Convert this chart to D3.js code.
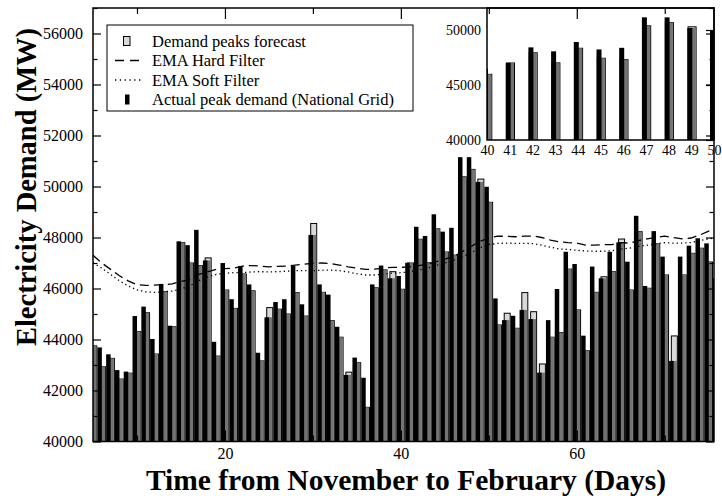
<!DOCTYPE html>
<html lang="en">
<head>
<meta charset="utf-8">
<script src="https://d3js.org/d3.v7.min.js"></script>
<title>Electricity demand peaks</title>
<style>
  body { margin: 0; background: #fff; }
  text { font-family: "Liberation Serif", "Times New Roman", serif; }
</style>
</head>
<body>
<div id="plot-div"></div>
<script>
const width = 722
const height = 496

// day index of each bar (Nov -> Feb)
const days = d3.range(5, 77)

const actualPeak = [
  44210, 43690, 43420, 42800, 42740, 44920, 45290, 44020, 46180, 44540,
  47850, 47700, 48300, 47100, 43910, 47000, 45580, 46880, 46160, 43480,
  44870, 45470, 45580, 46880, 45380, 48100, 46160, 45760, 44500, 42610,
  43290, 42500, 46160, 46900, 46400, 46490, 47010, 48420, 48060, 48910,
  48230, 48380, 51150, 51150, 50180, 49990, 45610, 44760, 44930, 45160,
  44800, 42700, 44760, 45980, 47440, 46960, 44150, 46860, 46400, 47440,
  47810, 47050, 48850, 46100, 48250, 47250, 43160, 47250, 47680, 47970,
  47770, 46400
]
const forecastPeak = [
  43750, 42930, 43260, 42450, 42680, 44310, 45050, 43430, 45880, 44500,
  47800, 47000, 46900, 47200, 43350, 45940, 45220, 46570, 45910, 43160,
  45250, 45190, 45000, 45840, 44920, 48550, 45850, 44740, 44090, 42720,
  43090, 41340, 46030, 46730, 46660, 45970, 47000, 47930, 47010, 48340,
  47430, 47310, 50380, 50670, 50290, 49380, 44570, 45030, 44440, 45840,
  45090, 43040, 44090, 44270, 46760, 45160, 43560, 45850, 46460, 46660,
  47940, 45940, 48230, 46010, 47750, 46530, 44140, 46530, 47380, 47580,
  47040, 46950
]
const emaHard = [
  47300, 47000, 46750, 46500, 46300, 46150, 46120, 46130, 46150, 46180,
  46280, 46350, 46550, 46650, 46750, 46780, 46800, 46880, 46900, 46880,
  46850, 46870, 46880, 46920, 46950, 46990, 47000, 46980, 46920, 46850,
  46800, 46750, 46760, 46800, 46830, 46830, 46850, 46900, 46950, 47050,
  47150, 47250, 47450, 47650, 47850, 47980, 48050, 48050, 48030, 48050,
  48060, 48000, 47900, 47830, 47800, 47780, 47700, 47700, 47720, 47720,
  47800, 47780, 47880, 47950, 48000, 48050, 48000, 47950, 47980, 48100,
  48250, 48350
]
const emaSoft = [
  47000, 46800, 46550, 46300, 46100, 45950, 45870, 45850, 45870, 45900,
  45980, 46100, 46300, 46450, 46550, 46600, 46620, 46620, 46650, 46660,
  46650, 46660, 46680, 46700, 46700, 46700, 46720, 46720, 46700, 46650,
  46580, 46530, 46530, 46560, 46600, 46620, 46650, 46720, 46800, 46900,
  47000, 47100, 47250, 47400, 47600, 47720, 47770, 47780, 47770, 47770,
  47760, 47700, 47620, 47550, 47530, 47500, 47470, 47460, 47460, 47480,
  47550, 47580, 47650, 47700, 47750, 47800, 47780, 47780, 47800, 47880,
  47950, 48000
]

const yTicks = [40000, 42000, 44000, 46000, 48000, 50000, 52000, 54000, 56000]
const yMinor = [41000, 43000, 45000, 47000, 49000, 51000, 53000, 55000, 57000]
const xTicks = [20, 40, 60]
const xMinor = [10, 30, 50, 70]

const insetDays = [40, 41, 42, 43, 44, 45, 46, 47, 48, 49, 50]
const insetYTicks = [40000, 45000, 50000]
const insetYMinor = [42500, 47500]

const legendItems = [
  "Demand peaks forecast",
  "EMA Hard Filter",
  "EMA Soft Filter",
  "Actual peak demand (National Grid)"
]

let rows = days.map((d, i) => ({
  day: d,
  actual: actualPeak[i],
  forecast: forecastPeak[i],
  hard: emaHard[i],
  soft: emaSoft[i]
}))

let margin = { top: 8, left: 93, right: 8, bottom: 54.5 }
let fmt = d3.format("d")

let xScale = d3.scaleLinear()
  .domain([5, 75.6])
  .range([margin.left, width - margin.right])

let yScale = d3.scaleLinear()
  .domain([40000, 57000])
  .range([height - margin.bottom, margin.top])

let svg = d3.select("#plot-div")
  .append("svg")
  .attr("width", width)
  .attr("height", height)

svg.append("rect").attr("width", width).attr("height", height).attr("fill", "#fff")

let defs = svg.append("defs")
defs.append("clipPath").attr("id", "main-clip")
  .append("rect")
  .attr("x", xScale.range()[0]).attr("y", yScale.range()[1])
  .attr("width", xScale.range()[1] - xScale.range()[0])
  .attr("height", yScale.range()[0] - yScale.range()[1])

// forecast bar (outlined), grey fill under the actual level, black actual bar
let drawBars = (g, data, x, y, fw, aw, fOff, aOff) => {
  let base = y.range()[0]
  g.selectAll("rect.fc")
    .data(data)
    .join("rect")
    .attr("class", "fc")
    .attr("x", d => x(d.day) + fOff - fw / 2)
    .attr("y", d => y(d.forecast))
    .attr("width", fw)
    .attr("height", d => base - y(d.forecast))
    .attr("fill", "#d9d9d9")
    .attr("stroke", "#000")
    .attr("stroke-width", 1)
  g.selectAll("rect.mid")
    .data(data)
    .join("rect")
    .attr("class", "mid")
    .attr("x", d => x(d.day) + fOff - fw / 2 + 0.5)
    .attr("y", d => y(Math.min(d.forecast, d.actual)))
    .attr("width", fw - 1)
    .attr("height", d => base - y(Math.min(d.forecast, d.actual)))
    .attr("fill", "#737373")
  g.selectAll("rect.act")
    .data(data)
    .join("rect")
    .attr("class", "act")
    .attr("x", d => x(d.day) + aOff - aw / 2)
    .attr("y", d => y(d.actual))
    .attr("width", aw)
    .attr("height", d => base - y(d.actual))
    .attr("fill", "#000")
}

let barsG = svg.append("g").attr("clip-path", "url(#main-clip)")
drawBars(barsG, rows, xScale, yScale, 6, 4.5, 0.8, -2.2)

// EMA lines
let lineG = svg.append("g").attr("clip-path", "url(#main-clip)")
lineG.append("path")
  .datum(rows)
  .attr("fill", "none")
  .attr("stroke", "#000")
  .attr("stroke-width", 1.3)
  .attr("stroke-dasharray", "9,5")
  .attr("d", d3.line().x(d => xScale(d.day)).y(d => yScale(d.hard)))
lineG.append("path")
  .datum(rows)
  .attr("fill", "none")
  .attr("stroke", "#000")
  .attr("stroke-width", 1.3)
  .attr("stroke-dasharray", "1.3,3")
  .attr("d", d3.line().x(d => xScale(d.day)).y(d => yScale(d.soft)))

// legend
let legend = svg.append("g")
legend.append("rect")
  .attr("x", 107).attr("y", 25)
  .attr("width", 306).attr("height", 86)
  .attr("fill", "#fff").attr("stroke", "#000").attr("stroke-width", 1)
legendItems.forEach((t, i) => {
  let cy = 41 + i * 19.5
  legend.append("text")
    .attr("x", 152).attr("y", cy + 5.5)
    .attr("font-size", 16.5)
    .text(t)
  if (i === 0) {
    legend.append("rect").attr("x", 123.5).attr("y", cy - 4.5)
      .attr("width", 6.5).attr("height", 9)
      .attr("fill", "#d9d9d9").attr("stroke", "#000")
  } else if (i === 1) {
    legend.append("line").attr("x1", 115).attr("x2", 141).attr("y1", cy).attr("y2", cy)
      .attr("stroke", "#000").attr("stroke-width", 1.5).attr("stroke-dasharray", "9,6")
  } else if (i === 2) {
    legend.append("line").attr("x1", 115).attr("x2", 141).attr("y1", cy).attr("y2", cy)
      .attr("stroke", "#000").attr("stroke-width", 1.3).attr("stroke-dasharray", "1.3,3.5")
  } else {
    legend.append("rect").attr("x", 125).attr("y", cy - 5)
      .attr("width", 4.5).attr("height", 10).attr("fill", "#000")
  }
})

// inset: days 40-50
let insetX = d3.scaleLinear().domain([40, 50]).range([487, 714])
let insetY = d3.scaleLinear().domain([40000, 52000]).range([140, 8])
defs.append("clipPath").attr("id", "inset-clip")
  .append("rect")
  .attr("x", 487).attr("y", 8).attr("width", 227).attr("height", 132)

let inset = svg.append("g")
inset.append("rect")
  .attr("x", 487).attr("y", 8).attr("width", 227).attr("height", 132)
  .attr("fill", "#fff")
let insetBars = inset.append("g").attr("clip-path", "url(#inset-clip)")
drawBars(insetBars, rows.filter(d => d.day >= 40 && d.day <= 50), insetX, insetY, 8, 5, 0.8, -1.5)

inset.append("g")
  .attr("transform", "translate(714,0)")
  .call(d3.axisRight(insetY).tickValues(insetYTicks).tickSize(-8).tickFormat(""))
  .call(g => g.select(".domain").remove())
inset.append("g")
  .attr("transform", "translate(714,0)")
  .call(d3.axisRight(insetY).tickValues(insetYMinor).tickSize(-4).tickFormat(""))
  .call(g => g.select(".domain").remove())
inset.append("g")
  .attr("transform", "translate(487,0)")
  .call(d3.axisLeft(insetY).tickValues(insetYTicks).tickSize(0).tickPadding(6).tickFormat(fmt))
  .call(g => g.select(".domain").remove())
  .call(g => g.selectAll("text").attr("font-family", "Liberation Serif").attr("font-size", 14))
inset.append("g")
  .attr("transform", "translate(0,140)")
  .call(d3.axisBottom(insetX).tickValues(insetDays).tickSize(0).tickPadding(5).tickFormat(fmt))
  .call(g => g.select(".domain").remove())
  .call(g => g.selectAll("text").attr("font-family", "Liberation Serif").attr("font-size", 14))
inset.append("rect")
  .attr("x", 487).attr("y", 8).attr("width", 227).attr("height", 132)
  .attr("fill", "none").attr("stroke", "#000").attr("stroke-width", 1.5)

// main frame, ticks and labels
let x0 = xScale.range()[0], x1 = xScale.range()[1]
let y0 = yScale.range()[0], y1 = yScale.range()[1]

svg.append("g")
  .attr("transform", `translate(${x0},0)`)
  .call(d3.axisLeft(yScale).tickValues(yTicks).tickSizeInner(-8).tickSizeOuter(0).tickPadding(10).tickFormat(fmt))
  .call(g => g.select(".domain").remove())
  .call(g => g.selectAll("text").attr("font-family", "Liberation Serif").attr("font-size", 16).attr("fill", "#000"))
svg.append("g")
  .attr("transform", `translate(${x0},0)`)
  .call(d3.axisLeft(yScale).tickValues(yMinor).tickSize(-4.5).tickFormat(""))
  .call(g => g.select(".domain").remove())
svg.append("g")
  .attr("transform", `translate(${x1},0)`)
  .call(d3.axisRight(yScale).tickValues(yTicks).tickSize(-8).tickFormat(""))
  .call(g => g.select(".domain").remove())
svg.append("g")
  .attr("transform", `translate(${x1},0)`)
  .call(d3.axisRight(yScale).tickValues(yMinor).tickSize(-4.5).tickFormat(""))
  .call(g => g.select(".domain").remove())

svg.append("g")
  .attr("transform", `translate(0,${y0})`)
  .call(d3.axisBottom(xScale).tickValues(xTicks).tickSizeInner(-11).tickSizeOuter(0).tickPadding(6).tickFormat(fmt))
  .call(g => g.select(".domain").remove())
  .call(g => g.selectAll("text").attr("font-family", "Liberation Serif").attr("font-size", 16).attr("fill", "#000"))
svg.append("g")
  .attr("transform", `translate(0,${y0})`)
  .call(d3.axisBottom(xScale).tickValues(xMinor).tickSize(-6).tickFormat(""))
  .call(g => g.select(".domain").remove())
svg.append("g")
  .attr("transform", `translate(0,${y1})`)
  .call(d3.axisTop(xScale).tickValues(xTicks).tickSize(-11).tickFormat(""))
  .call(g => g.select(".domain").remove())
svg.append("g")
  .attr("transform", `translate(0,${y1})`)
  .call(d3.axisTop(xScale).tickValues(xMinor).tickSize(-6).tickFormat(""))
  .call(g => g.select(".domain").remove())

svg.selectAll(".tick line").attr("stroke", "#000").attr("stroke-width", 1.2)

svg.append("rect")
  .attr("x", x0).attr("y", y1)
  .attr("width", x1 - x0).attr("height", y0 - y1)
  .attr("fill", "none").attr("stroke", "#000").attr("stroke-width", 1.5)

// axis titles
svg.append("text")
  .attr("x", 406).attr("y", 490)
  .attr("text-anchor", "middle")
  .attr("font-size", 29.5).attr("font-weight", "bold")
  .text("Time from November to February (Days)")
svg.append("text")
  .attr("transform", "translate(36,187) rotate(-90)")
  .attr("text-anchor", "middle")
  .attr("font-size", 28.5).attr("font-weight", "bold")
  .text("Electricity Demand (MW)")
</script>
</body>
</html>
